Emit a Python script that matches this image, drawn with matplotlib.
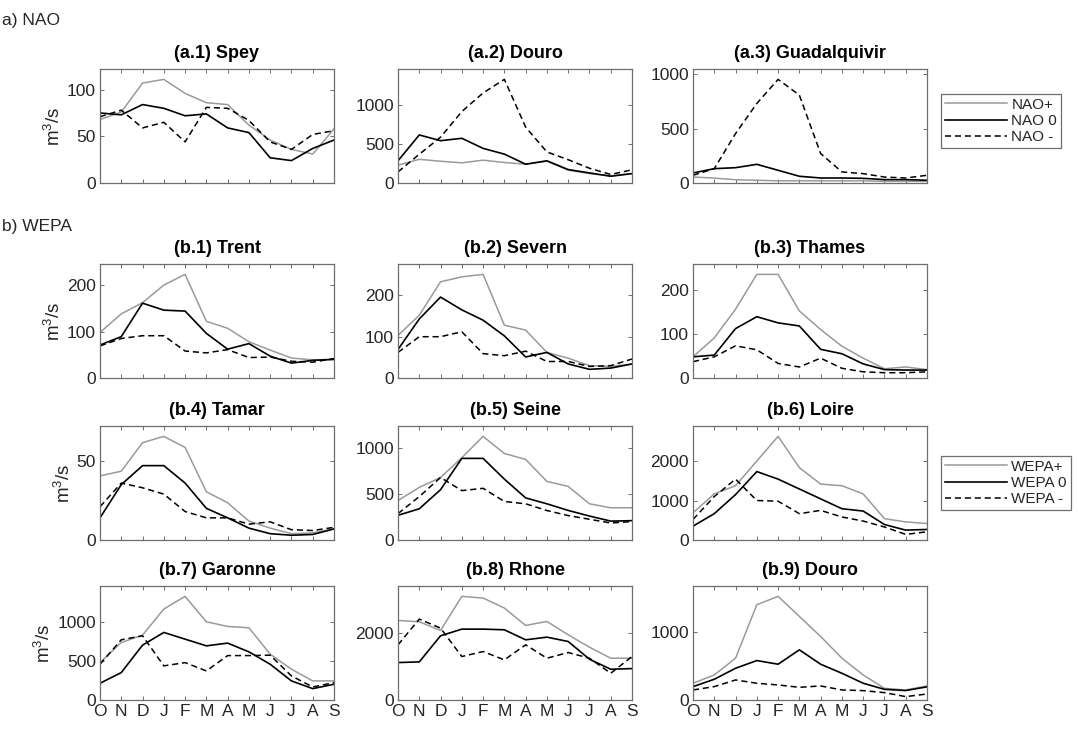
import matplotlib
matplotlib.use("Agg")
import matplotlib.pyplot as plt
from matplotlib.lines import Line2D

plt.rcParams['font.family'] = ['Liberation Sans', 'DejaVu Sans']
plt.rcParams['mathtext.default'] = 'regular'

months = ['O', 'N', 'D', 'J', 'F', 'M', 'A', 'M', 'J', 'J', 'A', 'S']

# a) NAO  -> (positive, neutral, negative)
spey_pos = [68, 76, 107, 111, 96, 86, 84, 62, 46, 36, 31, 58]
spey_zero = [75, 73, 84, 80, 72, 74, 59, 54, 27, 24, 37, 46]
spey_neg = [71, 78, 59, 65, 44, 81, 80, 67, 44, 36, 52, 56]

douro_a_pos = [230, 305, 280, 260, 294, 264, 242, 281, 165, 121, 91, 121]
douro_a_zero = [286, 619, 545, 576, 446, 372, 242, 286, 173, 130, 87, 121]
douro_a_neg = [143, 370, 590, 920, 1160, 1335, 720, 400, 300, 190, 110, 170]

guad_pos = [55, 45, 30, 25, 20, 20, 20, 20, 20, 15, 15, 15]
guad_zero = [92, 132, 141, 172, 117, 62, 46, 46, 43, 31, 31, 25]
guad_neg = [71, 132, 455, 732, 954, 809, 271, 102, 86, 55, 46, 71]

# b) WEPA
trent_pos = [98, 138, 162, 200, 223, 122, 107, 78, 60, 43, 39, 40]
trent_zero = [71, 89, 161, 146, 144, 96, 62, 74, 47, 32, 38, 40]
trent_neg = [69, 85, 91, 91, 58, 54, 61, 44, 45, 36, 34, 42]

severn_pos = [103, 152, 233, 245, 251, 128, 116, 62, 48, 30, 28, 34]
severn_zero = [69, 143, 196, 165, 140, 102, 51, 62, 34, 21, 24, 34]
severn_neg = [62, 100, 100, 112, 59, 54, 65, 40, 40, 28, 30, 46]

thames_pos = [48, 91, 156, 235, 235, 152, 110, 72, 45, 21, 25, 19]
thames_zero = [48, 52, 112, 139, 125, 118, 65, 55, 32, 19, 18, 18]
thames_neg = [37, 48, 73, 64, 33, 25, 45, 22, 14, 12, 12, 14]

tamar_pos = [40.5, 43.5, 61.5, 65.5, 58.5, 30.5, 23.5, 12, 7.5, 4, 4.5, 7]
tamar_zero = [14, 35, 47, 47, 36, 20, 14, 7.5, 4, 3, 3.5, 7]
tamar_neg = [21, 36, 33, 29, 18, 14, 14, 10, 11.5, 6.5, 6, 8]

seine_pos = [429, 571, 679, 893, 1125, 939, 875, 636, 582, 393, 350, 350]
seine_zero = [268, 339, 546, 886, 886, 661, 457, 393, 321, 260, 205, 210]
seine_neg = [286, 471, 679, 536, 561, 418, 393, 320, 265, 225, 185, 200]

loire_pos = [690, 1167, 1375, 2000, 2625, 1833, 1417, 1375, 1167, 540, 458, 417]
loire_zero = [350, 667, 1150, 1733, 1542, 1292, 1042, 792, 733, 392, 250, 267]
loire_neg = [520, 1100, 1542, 1000, 983, 667, 750, 583, 480, 330, 142, 208]

garonne_pos = [480, 738, 833, 1167, 1330, 1004, 944, 927, 588, 395, 245, 245]
garonne_zero = [215, 352, 704, 867, 781, 695, 730, 618, 459, 245, 146, 202]
garonne_neg = [459, 773, 824, 438, 480, 373, 570, 570, 575, 309, 167, 223]

rhone_pos = [2380, 2340, 2080, 3100, 3050, 2750, 2230, 2350, 1950, 1580, 1250, 1250]
rhone_zero = [1120, 1140, 1920, 2120, 2120, 2100, 1800, 1880, 1750, 1220, 920, 940]
rhone_neg = [1650, 2420, 2150, 1300, 1450, 1200, 1650, 1250, 1420, 1250, 800, 1300]

douro_b_pos = [248, 371, 619, 1411, 1535, 1238, 941, 619, 371, 173, 149, 208]
douro_b_zero = [198, 307, 470, 584, 530, 743, 530, 396, 248, 158, 140, 195]
douro_b_neg = [149, 198, 297, 248, 223, 188, 208, 149, 139, 109, 50, 89]

panels = [
    ('(a.1) Spey', spey_pos, spey_zero, spey_neg, [0, 50, 100]),
    ('(a.2) Douro', douro_a_pos, douro_a_zero, douro_a_neg, [0, 500, 1000]),
    ('(a.3) Guadalquivir', guad_pos, guad_zero, guad_neg, [0, 500, 1000]),
    ('(b.1) Trent', trent_pos, trent_zero, trent_neg, [0, 100, 200]),
    ('(b.2) Severn', severn_pos, severn_zero, severn_neg, [0, 100, 200]),
    ('(b.3) Thames', thames_pos, thames_zero, thames_neg, [0, 100, 200]),
    ('(b.4) Tamar', tamar_pos, tamar_zero, tamar_neg, [0, 50]),
    ('(b.5) Seine', seine_pos, seine_zero, seine_neg, [0, 500, 1000]),
    ('(b.6) Loire', loire_pos, loire_zero, loire_neg, [0, 1000, 2000]),
    ('(b.7) Garonne', garonne_pos, garonne_zero, garonne_neg, [0, 500, 1000]),
    ('(b.8) Rhone', rhone_pos, rhone_zero, rhone_neg, [0, 2000]),
    ('(b.9) Douro', douro_b_pos, douro_b_zero, douro_b_neg, [0, 1000]),
]

W, H = 1078, 751
fig = plt.figure(figsize=(W / 100, H / 100), dpi=100)

col_left = [100, 398, 693]
row_bottom = [183, 378, 540, 700]
aw, ah = 234, 114

gray = '#9a9a9a'
edge = '#6e6e6e'
txt = '#262626'
dash = (0, (4, 2.5))
x = list(range(1, 13))

for i, (title, pos, zero, neg, yt) in enumerate(panels):
    r, c = divmod(i, 3)
    ax = fig.add_axes([col_left[c] / W, (H - row_bottom[r]) / H, aw / W, ah / H])
    ax.plot(x, pos, color=gray, lw=1.1)
    ax.plot(x, zero, color='black', lw=1.2)
    ax.plot(x, neg, color='black', lw=1.1, linestyle=dash)
    ymax = 1.1 * max(max(pos), max(zero), max(neg))
    ax.set_xlim(1, 12)
    ax.set_ylim(0, ymax)
    ax.set_yticks(yt)
    ax.set_xticks(x)
    if r == 3:
        ax.set_xticklabels(months, fontsize=13.5)
    else:
        ax.set_xticklabels([])
    ax.tick_params(direction='in', length=3, width=0.7, top=True, right=True,
                   colors=edge, labelcolor=txt, labelsize=12.5, pad=3)
    for s in ax.spines.values():
        s.set_color(edge)
        s.set_linewidth(0.9)
    ax.set_title(title, fontsize=13, fontweight='bold', pad=8)
    if c == 0:
        ax.set_ylabel('m$^3$/s', fontsize=13.5, color=txt, labelpad=2)

fig.text(2 / W, 1 - 20 / H, 'a) NAO', fontsize=12.5, va='center', ha='left', color=txt)
fig.text(2 / W, 1 - 227 / H, 'b) WEPA', fontsize=12.5, va='center', ha='left', color=txt)


def make_handles(prefix):
    return [Line2D([], [], color=gray, lw=1.1, label=prefix + '+'),
            Line2D([], [], color='black', lw=1.2, label=prefix + ' 0'),
            Line2D([], [], color='black', lw=1.1, linestyle=dash, label=prefix + ' -')]


for prefix, yc in [('NAO', 121), ('WEPA', 483)]:
    leg = fig.legend(handles=make_handles(prefix), loc='center left',
                     bbox_to_anchor=(941 / W, 1 - yc / H), fontsize=11,
                     handlelength=4.1, handletextpad=0.25, labelspacing=0.15,
                     borderpad=0.25, borderaxespad=0, fancybox=False, framealpha=1)
    leg.get_frame().set_edgecolor(edge)
    leg.get_frame().set_linewidth(0.9)
    for t in leg.get_texts():
        t.set_color(txt)

fig.savefig('out.png', dpi=100)
